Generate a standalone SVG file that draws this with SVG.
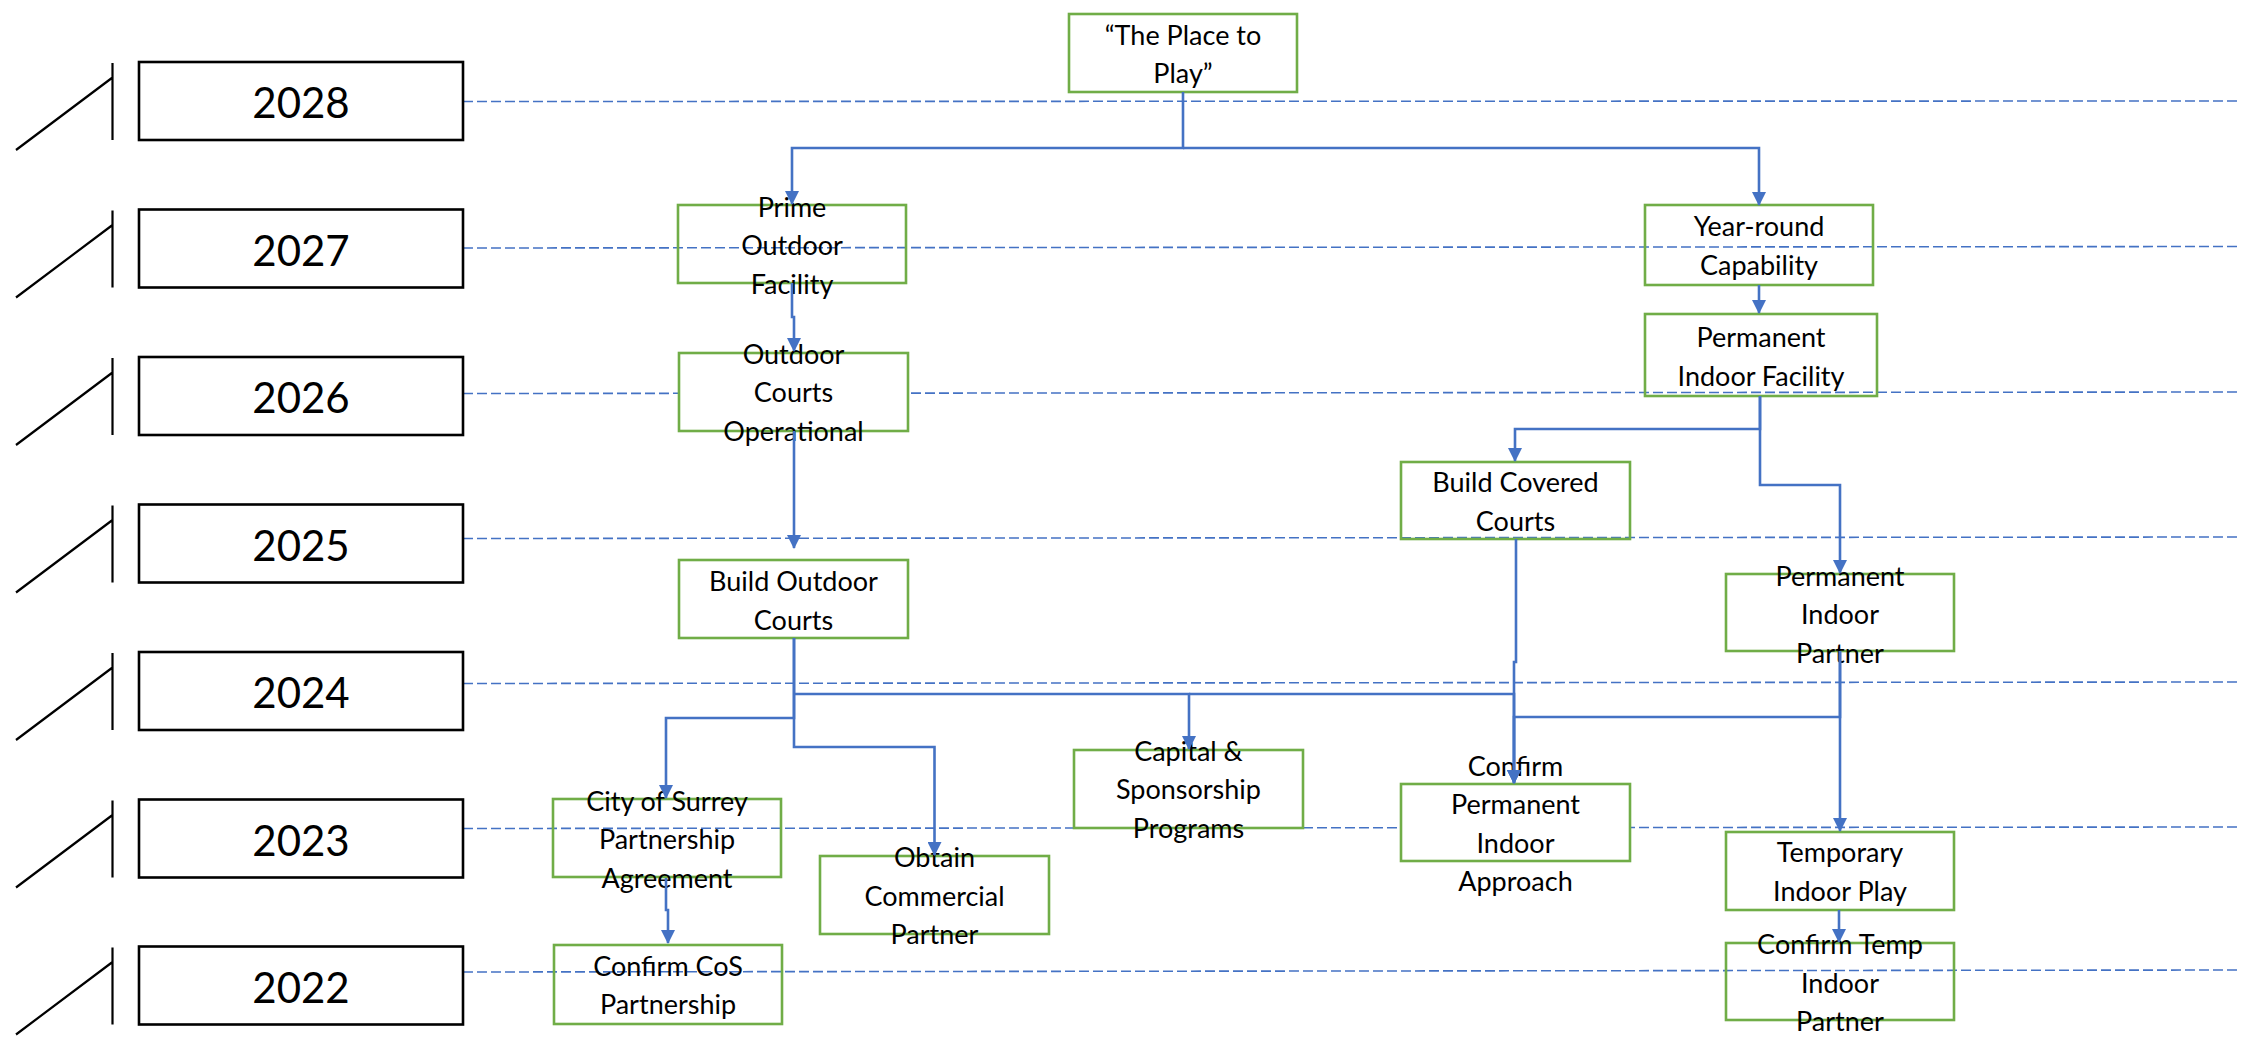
<svg xmlns="http://www.w3.org/2000/svg" width="2241" height="1037" viewBox="0 0 2241 1037">
<style>
.yr{fill:#fff;stroke:#000;stroke-width:2.6}
.yt{font-family:Lato,"Liberation Sans",sans-serif;font-size:42px;fill:#000;text-anchor:middle}
.sl{stroke:#000;stroke-width:2.2;fill:none}
.dash{stroke:#4472C4;stroke-width:1.6;stroke-dasharray:10 4;fill:none}
.nd{fill:none;stroke:#70AD47;stroke-width:2.6}
.ndw{fill:#fff;stroke:#70AD47;stroke-width:2.6}
.nt{font-family:Lato,"Liberation Sans",sans-serif;font-size:27px;fill:#000;text-anchor:middle}
.cn{fill:none;stroke:#4472C4;stroke-width:2.6}
</style>
<defs>
<marker id="arr" markerUnits="userSpaceOnUse" markerWidth="14" markerHeight="14" viewBox="0 0 14 14" refX="13" refY="7" orient="auto">
<path d="M0,0 L14,7 L0,14 z" fill="#4472C4"/>
</marker>
</defs>
<rect width="2241" height="1037" fill="#fff"/>

<g id="gridlines">
<line class="dash" x1="463" y1="101.5" x2="2241" y2="101"/>
<line class="dash" x1="463" y1="248" x2="2241" y2="246.5"/>
<line class="dash" x1="463" y1="393.5" x2="2241" y2="392"/>
<line class="dash" x1="463" y1="538.5" x2="2241" y2="537"/>
<line class="dash" x1="463" y1="683.5" x2="2241" y2="682"/>
<line class="dash" x1="463" y1="828.5" x2="2241" y2="827"/>
<line class="dash" x1="463" y1="972" x2="2241" y2="970"/>
</g>

<g id="year-2028">
<path class="sl" d="M112.5,63 V140 M16,150 L112.5,77.5"/>
<rect class="yr" x="139" y="62" width="324" height="78"/>
<text class="yt" x="301" y="118">2028</text>
</g>
<g id="year-2027">
<path class="sl" d="M112.5,210.5 V287.5 M16,297.5 L112.5,225"/>
<rect class="yr" x="139" y="209.5" width="324" height="78"/>
<text class="yt" x="301" y="265.5">2027</text>
</g>
<g id="year-2026">
<path class="sl" d="M112.5,358 V435 M16,445 L112.5,372.5"/>
<rect class="yr" x="139" y="357" width="324" height="78"/>
<text class="yt" x="301" y="413">2026</text>
</g>
<g id="year-2025">
<path class="sl" d="M112.5,505.5 V582.5 M16,592.5 L112.5,520"/>
<rect class="yr" x="139" y="504.5" width="324" height="78"/>
<text class="yt" x="301" y="560.5">2025</text>
</g>
<g id="year-2024">
<path class="sl" d="M112.5,653 V730 M16,740 L112.5,667.5"/>
<rect class="yr" x="139" y="652" width="324" height="78"/>
<text class="yt" x="301" y="708">2024</text>
</g>
<g id="year-2023">
<path class="sl" d="M112.5,800.5 V877.5 M16,887.5 L112.5,815"/>
<rect class="yr" x="139" y="799.5" width="324" height="78"/>
<text class="yt" x="301" y="855.5">2023</text>
</g>
<g id="year-2022">
<path class="sl" d="M112.5,947.5 V1024.5 M16,1034.5 L112.5,962"/>
<rect class="yr" x="139" y="946.5" width="324" height="78"/>
<text class="yt" x="301" y="1002.5">2022</text>
</g>

<g id="node-place">
<rect class="nd" x="1069" y="14" width="228" height="78"/>
<text class="nt" x="1183" y="44.5">“The Place to</text>
<text class="nt" x="1183" y="83">Play”</text>
</g>
<g id="node-prime">
<rect class="nd" x="678" y="205" width="228" height="78"/>
<text class="nt" x="792" y="216.5">Prime</text>
<text class="nt" x="792" y="255">Outdoor</text>
<text class="nt" x="792" y="293.5">Facility</text>
</g>
<g id="node-ocop">
<rect class="ndw" x="679" y="353" width="229" height="78"/>
<text class="nt" x="793.5" y="363.5">Outdoor</text>
<text class="nt" x="793.5" y="402">Courts</text>
<text class="nt" x="793.5" y="440.5">Operational</text>
</g>
<g id="node-boc">
<rect class="nd" x="679" y="560" width="229" height="78"/>
<text class="nt" x="793.5" y="591">Build Outdoor</text>
<text class="nt" x="793.5" y="629.5">Courts</text>
</g>
<g id="node-yearround">
<rect class="nd" x="1645" y="205" width="228" height="80"/>
<text class="nt" x="1759" y="236">Year-round</text>
<text class="nt" x="1759" y="274.5">Capability</text>
</g>
<g id="node-pif">
<rect class="nd" x="1645" y="314" width="232" height="82"/>
<text class="nt" x="1761" y="347">Permanent</text>
<text class="nt" x="1761" y="385.5">Indoor Facility</text>
</g>
<g id="node-bcc">
<rect class="nd" x="1401" y="462" width="229" height="77"/>
<text class="nt" x="1515.5" y="492">Build Covered</text>
<text class="nt" x="1515.5" y="530.5">Courts</text>
</g>
<g id="node-pip">
<rect class="nd" x="1726" y="574" width="228" height="77"/>
<text class="nt" x="1840" y="585.5">Permanent</text>
<text class="nt" x="1840" y="624">Indoor</text>
<text class="nt" x="1840" y="662.5">Partner</text>
</g>
<g id="node-capital">
<rect class="nd" x="1074" y="750" width="229" height="78"/>
<text class="nt" x="1188.5" y="760.5">Capital &amp;</text>
<text class="nt" x="1188.5" y="799">Sponsorship</text>
<text class="nt" x="1188.5" y="837.5">Programs</text>
</g>
<g id="node-cpia">
<rect class="ndw" x="1401" y="784" width="229" height="77"/>
<text class="nt" x="1515.5" y="775.5">Confirm</text>
<text class="nt" x="1515.5" y="814">Permanent</text>
<text class="nt" x="1515.5" y="852.5">Indoor</text>
<text class="nt" x="1515.5" y="891">Approach</text>
</g>
<g id="node-tip">
<rect class="nd" x="1726" y="832" width="228" height="78"/>
<text class="nt" x="1840" y="862">Temporary</text>
<text class="nt" x="1840" y="900.5">Indoor Play</text>
</g>
<g id="node-ctip">
<rect class="nd" x="1726" y="943" width="228" height="77"/>
<text class="nt" x="1840" y="954">Confirm Temp</text>
<text class="nt" x="1840" y="992.5">Indoor</text>
<text class="nt" x="1840" y="1031">Partner</text>
</g>
<g id="node-cos">
<rect class="nd" x="553" y="799" width="228" height="78"/>
<text class="nt" x="667" y="810.5">City of Surrey</text>
<text class="nt" x="667" y="849">Partnership</text>
<text class="nt" x="667" y="887.5">Agreement</text>
</g>
<g id="node-ccos">
<rect class="nd" x="554" y="945" width="228" height="79"/>
<text class="nt" x="668" y="975.5">Confirm CoS</text>
<text class="nt" x="668" y="1014">Partnership</text>
</g>
<g id="node-ocp">
<rect class="nd" x="820" y="856" width="229" height="78"/>
<text class="nt" x="934.5" y="867">Obtain</text>
<text class="nt" x="934.5" y="905.5">Commercial</text>
<text class="nt" x="934.5" y="944">Partner</text>
</g>

<g id="connectors">
<path class="cn" marker-end="url(#arr)" d="M1183,92 V148 H792 V204"/>
<path class="cn" marker-end="url(#arr)" d="M1183,148 H1759 V205"/>
<path class="cn" marker-end="url(#arr)" d="M792,283 V317 H794 V351"/>
<path class="cn" marker-end="url(#arr)" d="M794,431 V548"/>
<path class="cn" marker-end="url(#arr)" d="M794,638 V718 H666 V798"/>
<path class="cn" marker-end="url(#arr)" d="M794,638 V747 H934.5 V855"/>
<path class="cn" marker-end="url(#arr)" d="M794,694 H1189 V749"/>
<path class="cn" marker-end="url(#arr)" d="M1189,694 H1514 V783"/>
<path class="cn" marker-end="url(#arr)" d="M1759,285 V313"/>
<path class="cn" marker-end="url(#arr)" d="M1760,396 V429 H1515 V461"/>
<path class="cn" marker-end="url(#arr)" d="M1760,396 V485 H1840 V573"/>
<path class="cn" marker-end="url(#arr)" d="M1516,539 V662 H1514 V783"/>
<path class="cn" marker-end="url(#arr)" d="M1840,651 V717 H1514 V783"/>
<path class="cn" marker-end="url(#arr)" d="M1840,651 V742 H1840 V831"/>
<path class="cn" marker-end="url(#arr)" d="M1839,910 V942"/>
<path class="cn" marker-end="url(#arr)" d="M666,878 V910 H668 V943"/>
</g>
</svg>
